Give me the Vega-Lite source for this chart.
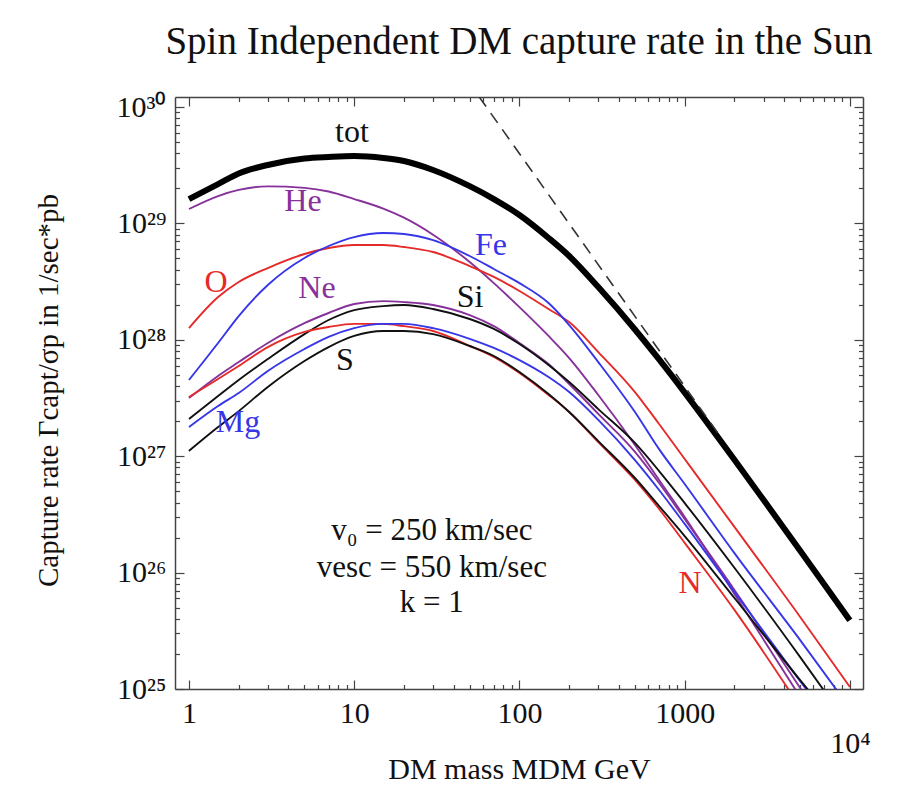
{
  "$schema": "https://vega.github.io/schema/vega-lite/v6.json",
  "width": 688,
  "height": 592,
  "autosize": {"type": "none"},
  "padding": {"left": 175, "top": 97, "right": 34, "bottom": 100},
  "background": "white",
  "title": {"text": "Spin Independent DM capture rate in the Sun", "font": "Liberation Serif", "fontSize": 39, "fontWeight": "normal", "color": "#111111", "anchor": "middle", "offset": -1, "baseline": "alphabetic"},
  "config": {"view": {"stroke": null}, "font": "Liberation Serif"},
  "datasets": {
    "curves": [
      {"series": "tot", "m": 1, "rate": 1.62e29}, {"series": "tot", "m": 1.5, "rate": 2.18e29}, {"series": "tot", "m": 2, "rate": 2.69e29}, {"series": "tot", "m": 3, "rate": 3.18e29}, {"series": "tot", "m": 5, "rate": 3.61e29}, {"series": "tot", "m": 7, "rate": 3.72e29}, {"series": "tot", "m": 10, "rate": 3.79e29}, {"series": "tot", "m": 15, "rate": 3.65e29}, {"series": "tot", "m": 20, "rate": 3.44e29}, {"series": "tot", "m": 30, "rate": 2.88e29}, {"series": "tot", "m": 50, "rate": 2.09e29}, {"series": "tot", "m": 70, "rate": 1.62e29}, {"series": "tot", "m": 100, "rate": 1.18e29}, {"series": "tot", "m": 150, "rate": 7.50e28}, {"series": "tot", "m": 200, "rate": 5.25e28}, {"series": "tot", "m": 300, "rate": 2.84e28}, {"series": "tot", "m": 500, "rate": 1.226e28}, {"series": "tot", "m": 700, "rate": 6.78e27}, {"series": "tot", "m": 1000, "rate": 3.52e27}, {"series": "tot", "m": 1500, "rate": 1.627e27}, {"series": "tot", "m": 2000, "rate": 9.32e26}, {"series": "tot", "m": 3000, "rate": 4.22e26}, {"series": "tot", "m": 5000, "rate": 1.541e26}, {"series": "tot", "m": 7000, "rate": 7.91e25}, {"series": "tot", "m": 10000, "rate": 3.89e25},
      {"series": "He", "m": 1, "rate": 1.33e29}, {"series": "He", "m": 1.5, "rate": 1.72e29}, {"series": "He", "m": 2, "rate": 1.94e29}, {"series": "He", "m": 3, "rate": 2.08e29}, {"series": "He", "m": 5, "rate": 2.02e29}, {"series": "He", "m": 7, "rate": 1.88e29}, {"series": "He", "m": 10, "rate": 1.62e29}, {"series": "He", "m": 15, "rate": 1.34e29}, {"series": "He", "m": 20, "rate": 1.12e29}, {"series": "He", "m": 30, "rate": 8.0e28}, {"series": "He", "m": 50, "rate": 4.66e28}, {"series": "He", "m": 70, "rate": 3.07e28}, {"series": "He", "m": 100, "rate": 1.91e28}, {"series": "He", "m": 150, "rate": 1.08e28}, {"series": "He", "m": 200, "rate": 6.98e27}, {"series": "He", "m": 300, "rate": 3.36e27}, {"series": "He", "m": 500, "rate": 1.25e27}, {"series": "He", "m": 700, "rate": 6.25e26}, {"series": "He", "m": 1000, "rate": 3.01e26}, {"series": "He", "m": 2000, "rate": 6.55e25}, {"series": "He", "m": 5000, "rate": 8.53e24},
      {"series": "O", "m": 1, "rate": 1.26e28}, {"series": "O", "m": 1.5, "rate": 2.33e28}, {"series": "O", "m": 2, "rate": 3.14e28}, {"series": "O", "m": 3, "rate": 4.14e28}, {"series": "O", "m": 5, "rate": 5.46e28}, {"series": "O", "m": 7, "rate": 6.15e28}, {"series": "O", "m": 10, "rate": 6.52e28}, {"series": "O", "m": 15, "rate": 6.52e28}, {"series": "O", "m": 20, "rate": 6.27e28}, {"series": "O", "m": 30, "rate": 5.68e28}, {"series": "O", "m": 50, "rate": 4.30e28}, {"series": "O", "m": 70, "rate": 3.47e28}, {"series": "O", "m": 100, "rate": 2.63e28}, {"series": "O", "m": 150, "rate": 1.84e28}, {"series": "O", "m": 200, "rate": 1.42e28}, {"series": "O", "m": 300, "rate": 7.85e27}, {"series": "O", "m": 500, "rate": 3.56e27}, {"series": "O", "m": 700, "rate": 1.89e27}, {"series": "O", "m": 1000, "rate": 9.47e26}, {"series": "O", "m": 2000, "rate": 2.47e26}, {"series": "O", "m": 5000, "rate": 4.16e25}, {"series": "O", "m": 10000, "rate": 1.04e25},
      {"series": "Fe", "m": 1, "rate": 4.52e27}, {"series": "Fe", "m": 1.5, "rate": 9.39e27}, {"series": "Fe", "m": 2, "rate": 1.60e28}, {"series": "Fe", "m": 3, "rate": 2.96e28}, {"series": "Fe", "m": 5, "rate": 5.05e28}, {"series": "Fe", "m": 7, "rate": 6.40e28}, {"series": "Fe", "m": 10, "rate": 7.64e28}, {"series": "Fe", "m": 15, "rate": 8.28e28}, {"series": "Fe", "m": 20, "rate": 8.11e28}, {"series": "Fe", "m": 30, "rate": 7.19e28}, {"series": "Fe", "m": 50, "rate": 5.25e28}, {"series": "Fe", "m": 70, "rate": 4.06e28}, {"series": "Fe", "m": 100, "rate": 3.07e28}, {"series": "Fe", "m": 150, "rate": 2.07e28}, {"series": "Fe", "m": 200, "rate": 1.34e28}, {"series": "Fe", "m": 300, "rate": 6.44e27}, {"series": "Fe", "m": 500, "rate": 2.40e27}, {"series": "Fe", "m": 700, "rate": 1.15e27}, {"series": "Fe", "m": 1000, "rate": 5.77e26}, {"series": "Fe", "m": 2000, "rate": 1.47e26}, {"series": "Fe", "m": 5000, "rate": 2.63e25}, {"series": "Fe", "m": 10000, "rate": 6.85e24},
      {"series": "Ne", "m": 1, "rate": 3.16e27}, {"series": "Ne", "m": 1.5, "rate": 4.89e27}, {"series": "Ne", "m": 2, "rate": 6.44e27}, {"series": "Ne", "m": 3, "rate": 9.39e27}, {"series": "Ne", "m": 5, "rate": 1.39e28}, {"series": "Ne", "m": 7, "rate": 1.70e28}, {"series": "Ne", "m": 10, "rate": 2.03e28}, {"series": "Ne", "m": 15, "rate": 2.15e28}, {"series": "Ne", "m": 20, "rate": 2.11e28}, {"series": "Ne", "m": 30, "rate": 1.99e28}, {"series": "Ne", "m": 50, "rate": 1.63e28}, {"series": "Ne", "m": 70, "rate": 1.31e28}, {"series": "Ne", "m": 100, "rate": 9.39e27}, {"series": "Ne", "m": 150, "rate": 6.19e27}, {"series": "Ne", "m": 200, "rate": 4.17e27}, {"series": "Ne", "m": 300, "rate": 2.31e27}, {"series": "Ne", "m": 500, "rate": 1.09e27}, {"series": "Ne", "m": 700, "rate": 5.89e26}, {"series": "Ne", "m": 1000, "rate": 2.89e26}, {"series": "Ne", "m": 2000, "rate": 7.10e25}, {"series": "Ne", "m": 5000, "rate": 1.02e25}, {"series": "Ne", "m": 10000, "rate": 2.27e24},
      {"series": "Si", "m": 1, "rate": 2.09e27}, {"series": "Si", "m": 1.5, "rate": 3.29e27}, {"series": "Si", "m": 2, "rate": 4.52e27}, {"series": "Si", "m": 3, "rate": 6.84e27}, {"series": "Si", "m": 5, "rate": 1.12e28}, {"series": "Si", "m": 7, "rate": 1.48e28}, {"series": "Si", "m": 10, "rate": 1.80e28}, {"series": "Si", "m": 15, "rate": 1.95e28}, {"series": "Si", "m": 20, "rate": 1.99e28}, {"series": "Si", "m": 30, "rate": 1.84e28}, {"series": "Si", "m": 50, "rate": 1.51e28}, {"series": "Si", "m": 70, "rate": 1.24e28}, {"series": "Si", "m": 100, "rate": 9.21e27}, {"series": "Si", "m": 150, "rate": 6.08e27}, {"series": "Si", "m": 200, "rate": 4.34e27}, {"series": "Si", "m": 300, "rate": 2.54e27}, {"series": "Si", "m": 500, "rate": 1.30e27}, {"series": "Si", "m": 700, "rate": 7.46e26}, {"series": "Si", "m": 1000, "rate": 3.96e26}, {"series": "Si", "m": 2000, "rate": 1.10e26}, {"series": "Si", "m": 5000, "rate": 1.88e25}, {"series": "Si", "m": 10000, "rate": 4.72e24},
      {"series": "N", "m": 1, "rate": 3.23e27}, {"series": "N", "m": 1.5, "rate": 4.61e27}, {"series": "N", "m": 2, "rate": 5.96e27}, {"series": "N", "m": 3, "rate": 8.67e27}, {"series": "N", "m": 5, "rate": 1.17e28}, {"series": "N", "m": 7, "rate": 1.29e28}, {"series": "N", "m": 10, "rate": 1.37e28}, {"series": "N", "m": 15, "rate": 1.37e28}, {"series": "N", "m": 20, "rate": 1.31e28}, {"series": "N", "m": 30, "rate": 1.19e28}, {"series": "N", "m": 50, "rate": 8.85e27}, {"series": "N", "m": 70, "rate": 7.12e27}, {"series": "N", "m": 100, "rate": 5.19e27}, {"series": "N", "m": 150, "rate": 3.36e27}, {"series": "N", "m": 200, "rate": 2.40e27}, {"series": "N", "m": 300, "rate": 1.32e27}, {"series": "N", "m": 500, "rate": 6.25e26}, {"series": "N", "m": 700, "rate": 3.52e26}, {"series": "N", "m": 1000, "rate": 1.80e26}, {"series": "N", "m": 2000, "rate": 4.78e25}, {"series": "N", "m": 5000, "rate": 7.00e24},
      {"series": "Mg", "m": 1, "rate": 1.78e27}, {"series": "Mg", "m": 1.5, "rate": 2.70e27}, {"series": "Mg", "m": 2, "rate": 3.49e27}, {"series": "Mg", "m": 3, "rate": 5.40e27}, {"series": "Mg", "m": 5, "rate": 8.34e27}, {"series": "Mg", "m": 7, "rate": 1.06e28}, {"series": "Mg", "m": 10, "rate": 1.26e28}, {"series": "Mg", "m": 15, "rate": 1.37e28}, {"series": "Mg", "m": 20, "rate": 1.37e28}, {"series": "Mg", "m": 30, "rate": 1.26e28}, {"series": "Mg", "m": 50, "rate": 1.02e28}, {"series": "Mg", "m": 70, "rate": 8.51e27}, {"series": "Mg", "m": 100, "rate": 6.70e27}, {"series": "Mg", "m": 150, "rate": 4.79e27}, {"series": "Mg", "m": 200, "rate": 3.56e27}, {"series": "Mg", "m": 300, "rate": 2.05e27}, {"series": "Mg", "m": 500, "rate": 9.27e26}, {"series": "Mg", "m": 700, "rate": 5.13e26}, {"series": "Mg", "m": 1000, "rate": 2.62e26}, {"series": "Mg", "m": 2000, "rate": 6.81e25}, {"series": "Mg", "m": 5000, "rate": 1.17e25}, {"series": "Mg", "m": 10000, "rate": 3.11e24},
      {"series": "S", "m": 1, "rate": 1.11e27}, {"series": "S", "m": 1.5, "rate": 1.78e27}, {"series": "S", "m": 2, "rate": 2.44e27}, {"series": "S", "m": 3, "rate": 3.94e27}, {"series": "S", "m": 5, "rate": 6.58e27}, {"series": "S", "m": 7, "rate": 8.67e27}, {"series": "S", "m": 10, "rate": 1.08e28}, {"series": "S", "m": 15, "rate": 1.19e28}, {"series": "S", "m": 20, "rate": 1.19e28}, {"series": "S", "m": 30, "rate": 1.12e28}, {"series": "S", "m": 50, "rate": 8.85e27}, {"series": "S", "m": 70, "rate": 7.26e27}, {"series": "S", "m": 100, "rate": 5.29e27}, {"series": "S", "m": 150, "rate": 3.42e27}, {"series": "S", "m": 200, "rate": 2.40e27}, {"series": "S", "m": 300, "rate": 1.35e27}, {"series": "S", "m": 500, "rate": 6.50e26}, {"series": "S", "m": 700, "rate": 3.73e26}, {"series": "S", "m": 1000, "rate": 2.06e26}, {"series": "S", "m": 2000, "rate": 6.05e25}, {"series": "S", "m": 5000, "rate": 1.19e25}, {"series": "S", "m": 10000, "rate": 3.65e24}
    ],
    "asym": [{"m": 57, "rate": 1.225e30}, {"m": 1600, "rate": 1.555e27}],
    "labels": [
      {"series": "tot", "t": "tot", "m": 9.69, "rate": 6.1e29},
      {"series": "He", "t": "He", "m": 4.9, "rate": 1.56e29},
      {"series": "Fe", "t": "Fe", "m": 67.2, "rate": 6.5e28},
      {"series": "O", "t": "O", "m": 1.46, "rate": 3.14e28},
      {"series": "Ne", "t": "Ne", "m": 5.95, "rate": 2.79e28},
      {"series": "Si", "t": "Si", "m": 50.2, "rate": 2.33e28},
      {"series": "S", "t": "S", "m": 8.79, "rate": 6.7e27},
      {"series": "Mg", "t": "Mg", "m": 1.98, "rate": 1.97e27},
      {"series": "N", "t": "N", "m": 1076, "rate": 8.15e25}
    ],
    "params": [
      {"t": "v₀ = 250 km/sec", "m": 29.5, "rate": 2.27e26},
      {"t": "vesc = 550 km/sec", "m": 29.5, "rate": 1.10e26},
      {"t": "k = 1", "m": 29.5, "rate": 5.49e25}
    ]
  },
  "layer": [
    {
      "data": {"name": "curves"},
      "transform": [{"filter": "datum.series != 'tot'"}],
      "mark": {"type": "line", "strokeWidth": 1.9, "clip": true, "interpolate": "monotone"},
      "encoding": {
        "x": {"field": "m", "type": "quantitative",
          "scale": {"type": "log", "domain": [0.823, 12000], "nice": false},
          "axis": {
            "orient": "bottom", "grid": false,
            "values": [1,2,3,4,5,6,7,8,9,10,20,30,40,50,60,70,80,90,100,200,300,400,500,600,700,800,900,1000,2000,3000,4000,5000,6000,7000,8000,9000,10000],
            "labelExpr": "datum.value == 1 ? '1' : datum.value == 10 ? '10' : datum.value == 100 ? '100' : datum.value == 1000 ? '1000' : datum.value == 10000 ? '10⁴' : ''",
            "labelFont": "Liberation Serif", "labelFontSize": 30, "labelColor": "#111111",
            "labelBaseline": "top", "labelFlush": false, "labelOverlap": false,
            "labelPadding": {"condition": {"test": "datum.value == 10000", "value": 48}, "value": 18},
            "tickSize": {"condition": {"test": "indexof([1,10,100,1000,10000], datum.value) >= 0", "value": -9}, "value": -4.5},
            "tickColor": "#444444", "tickWidth": 1.2,
            "domainColor": "#444444", "domainWidth": 1.5,
            "title": "DM mass MDM GeV", "titleFont": "Liberation Serif", "titleFontSize": 30, "titleFontWeight": "normal", "titleColor": "#111111",
            "titleX": 344, "titleY": 89, "titleBaseline": "alphabetic", "titleAlign": "center"
          }
        },
        "y": {"field": "rate", "type": "quantitative",
          "scale": {"type": "log", "domain": [1e25, 1.22e30], "nice": false},
          "axis": {
            "orient": "left", "grid": false,
            "values": [1e25,2e25,3e25,4e25,5e25,6e25,7e25,8e25,9e25,1e26,2e26,3e26,4e26,5e26,6e26,7e26,8e26,9e26,1e27,2e27,3e27,4e27,5e27,6e27,7e27,8e27,9e27,1e28,2e28,3e28,4e28,5e28,6e28,7e28,8e28,9e28,1e29,2e29,3e29,4e29,5e29,6e29,7e29,8e29,9e29,1e30],
            "labelExpr": "datum.value == 1e25 ? '10²⁵' : datum.value == 1e26 ? '10²⁶' : datum.value == 1e27 ? '10²⁷' : datum.value == 1e28 ? '10²⁸' : datum.value == 1e29 ? '10²⁹' : datum.value == 1e30 ? '10³⁰' : ''",
            "labelFont": "Liberation Serif", "labelFontSize": 30, "labelColor": "#111111",
            "labelBaseline": "middle", "labelAlign": "right", "labelFlush": false, "labelOverlap": false,
            "labelPadding": 18,
            "tickSize": {"condition": {"test": "indexof([1e25,1e26,1e27,1e28,1e29,1e30], datum.value) >= 0", "value": -9}, "value": -4.5},
            "tickColor": "#444444", "tickWidth": 1.2,
            "domainColor": "#444444", "domainWidth": 1.5,
            "title": "Capture rate Γcapt/σp in 1/sec*pb", "titleFont": "Liberation Serif", "titleFontSize": 29, "titleFontWeight": "normal", "titleColor": "#111111",
            "titleX": -118, "titleY": 293, "titleAngle": -90, "titleBaseline": "alphabetic", "titleAlign": "center"
          }
        },
        "color": {"field": "series", "type": "nominal",
          "scale": {"domain": ["tot","He","O","Fe","Ne","Si","N","Mg","S"], "range": ["#111111","#86329a","#e52a2a","#3636e8","#86329a","#111111","#e52a2a","#3636e8","#111111"]},
          "legend": null}
      }
    },
    {
      "data": {"name": "curves"},
      "transform": [{"filter": "datum.series == 'tot'"}],
      "mark": {"type": "line", "strokeWidth": 6, "color": "#000000", "clip": true, "interpolate": "monotone"},
      "encoding": {
        "x": {"field": "m", "type": "quantitative", "scale": {"type": "log", "domain": [0.823, 12000], "nice": false}, "axis": null},
        "y": {"field": "rate", "type": "quantitative", "scale": {"type": "log", "domain": [1e25, 1.22e30], "nice": false}, "axis": null}
      }
    },
    {
      "data": {"name": "asym"},
      "mark": {"type": "line", "strokeWidth": 1.6, "strokeDash": [12, 8], "color": "#333333", "clip": true},
      "encoding": {
        "x": {"field": "m", "type": "quantitative",
          "scale": {"type": "log", "domain": [0.823, 12000], "nice": false},
          "axis": {
            "orient": "top", "grid": false, "labels": false, "title": null,
            "values": [1,2,3,4,5,6,7,8,9,10,20,30,40,50,60,70,80,90,100,200,300,400,500,600,700,800,900,1000,2000,3000,4000,5000,6000,7000,8000,9000,10000],
            "tickSize": {"condition": {"test": "indexof([1,10,100,1000,10000], datum.value) >= 0", "value": -9}, "value": -4.5},
            "tickColor": "#444444", "tickWidth": 1.2,
            "domainColor": "#444444", "domainWidth": 1.5
          }
        },
        "y": {"field": "rate", "type": "quantitative",
          "scale": {"type": "log", "domain": [1e25, 1.22e30], "nice": false},
          "axis": {
            "orient": "right", "grid": false, "labels": false, "title": null,
            "values": [1e25,2e25,3e25,4e25,5e25,6e25,7e25,8e25,9e25,1e26,2e26,3e26,4e26,5e26,6e26,7e26,8e26,9e26,1e27,2e27,3e27,4e27,5e27,6e27,7e27,8e27,9e27,1e28,2e28,3e28,4e28,5e28,6e28,7e28,8e28,9e28,1e29,2e29,3e29,4e29,5e29,6e29,7e29,8e29,9e29,1e30],
            "tickSize": {"condition": {"test": "indexof([1e25,1e26,1e27,1e28,1e29,1e30], datum.value) >= 0", "value": -9}, "value": -4.5},
            "tickColor": "#444444", "tickWidth": 1.2,
            "domainColor": "#444444", "domainWidth": 1.5
          }
        }
      }
    },
    {
      "data": {"name": "labels"},
      "mark": {"type": "text", "font": "Liberation Serif", "fontSize": 32, "align": "center", "baseline": "middle"},
      "encoding": {
        "x": {"field": "m", "type": "quantitative", "scale": {"type": "log", "domain": [0.823, 12000], "nice": false}, "axis": null},
        "y": {"field": "rate", "type": "quantitative", "scale": {"type": "log", "domain": [1e25, 1.22e30], "nice": false}, "axis": null},
        "text": {"field": "t"},
        "color": {"field": "series", "type": "nominal",
          "scale": {"domain": ["tot","He","O","Fe","Ne","Si","N","Mg","S"], "range": ["#111111","#86329a","#e52a2a","#3636e8","#86329a","#111111","#e52a2a","#3636e8","#111111"]},
          "legend": null}
      }
    },
    {
      "data": {"name": "params"},
      "mark": {"type": "text", "font": "Liberation Serif", "fontSize": 31, "align": "center", "baseline": "middle", "color": "#111111"},
      "encoding": {
        "x": {"field": "m", "type": "quantitative", "scale": {"type": "log", "domain": [0.823, 12000], "nice": false}, "axis": null},
        "y": {"field": "rate", "type": "quantitative", "scale": {"type": "log", "domain": [1e25, 1.22e30], "nice": false}, "axis": null},
        "text": {"field": "t"}
      }
    }
  ],
  "resolve": {"axis": {"x": "independent", "y": "independent"}}
}
